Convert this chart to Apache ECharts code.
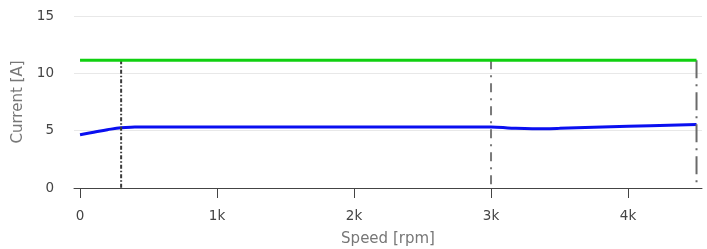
<!DOCTYPE html>
<html>
<head>
<meta charset="utf-8">
<script src="https://cdn.jsdelivr.net/npm/echarts@6/dist/echarts.min.js"></script>
<style>
  html, body { margin: 0; padding: 0; background: #fff; }
  #chart { width: 707px; height: 249px; }
</style>
</head>
<body>
<div id="chart"></div>
<script>
// speed [rpm] and current [A]
const blueSpeed = [0, 100, 200, 300, 400, 500, 1000, 1500, 2000, 2500, 3000, 3150, 3300, 3500, 4000, 4500];
const blueCurrent = [4.64, 4.86, 5.08, 5.26, 5.31, 5.33, 5.33, 5.33, 5.33, 5.33, 5.33, 5.22, 5.16, 5.2, 5.38, 5.54];
const greenSpeed = [0, 4500];
const greenCurrent = [11.15, 11.15];
const markerSpeeds = [300, 3000, 4500];
const markerTop = 11.15;
const xTicks = [0, 1000, 2000, 3000, 4000];

const font = 'DejaVu Sans';

function pairs(xs, ys) {
  return xs.map((x, i) => [x, ys[i]]);
}

const markerStyles = [
  {color: '#3a3a3a', type: [4, 2, 1.5, 2]},
  {color: '#7a7a7a', type: [9, 6, 2, 6]},
  {color: '#6a6a6a', type: [18, 6, 2, 6]}
];

const chart = echarts.init(document.getElementById('chart'));

// grid 0 carries the data, the y axis and the axis line;
// grid 1 only places the x ticks/labels at 0..4k
const option = {
  animation: false,
  grid: [
    {left: 74, right: 5, top: 16, bottom: 61, outerBoundsMode: 'none'},
    {left: 80, right: 79, top: 16, bottom: 61, outerBoundsMode: 'none'}
  ],
  xAxis: [{
    gridIndex: 0,
    type: 'value',
    min: -44,
    max: 4540,
    name: 'Speed [rpm]',
    nameLocation: 'middle',
    nameGap: 44,
    nameTextStyle: {color: '#777', fontSize: 15, fontFamily: font},
    axisLine: {show: true, lineStyle: {color: '#444', width: 1}},
    axisTick: {show: false},
    axisLabel: {show: false},
    splitLine: {show: false}
  }, {
    gridIndex: 1,
    type: 'value',
    min: 0,
    max: 4000,
    interval: 1000,
    axisLine: {show: false},
    axisTick: {show: true, length: 10, lineStyle: {color: '#444', width: 1}},
    axisLabel: {
      margin: 21,
      color: '#444',
      fontSize: 13.5,
      fontFamily: font,
      formatter: v => (xTicks.indexOf(v) < 0 ? '' : (v === 0 ? '0' : (v / 1000) + 'k'))
    },
    splitLine: {show: false}
  }],
  yAxis: [{
    gridIndex: 0,
    type: 'value',
    min: 0,
    max: 15,
    interval: 5,
    name: 'Current [A]',
    nameLocation: 'middle',
    nameGap: 45,
    nameTextStyle: {color: '#777', fontSize: 15, fontFamily: font},
    axisLine: {show: false},
    axisTick: {show: false},
    axisLabel: {margin: 20, color: '#444', fontSize: 13.5, fontFamily: font},
    splitLine: {lineStyle: {color: '#e8e8e8', width: 1}}
  }, {
    gridIndex: 1,
    type: 'value',
    min: 0,
    max: 15,
    show: false
  }],
  series: [
    {
      type: 'line',
      smooth: 0.4,
      symbol: 'none',
      lineStyle: {color: '#0a0ff0', width: 3},
      data: pairs(blueSpeed, blueCurrent),
      z: 2
    },
    {
      type: 'line',
      symbol: 'none',
      lineStyle: {color: '#10d010', width: 3},
      data: pairs(greenSpeed, greenCurrent),
      z: 4
    }
  ].concat(markerSpeeds.map((s, i) => ({
    type: 'line',
    symbol: 'none',
    lineStyle: {color: markerStyles[i].color, width: 2, type: markerStyles[i].type},
    data: [[s, markerTop], [s, 0]],
    z: 3
  })))
};

chart.setOption(option);
</script>
</body>
</html>
